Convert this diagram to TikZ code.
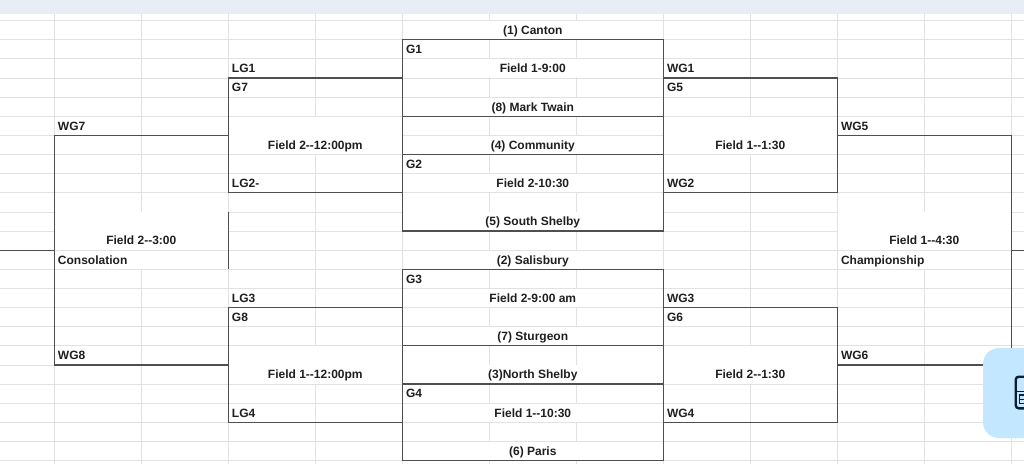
\documentclass[tikz,border=0pt]{standalone}
\usepackage{fontspec}
\setmainfont{Liberation Sans}
\usetikzlibrary{
	positioning,
	calc,
	fit
}
\definecolor{rejilla}{HTML}{E2E2E2}
\definecolor{bordecol}{HTML}{4F4F4F}
\definecolor{cabecera}{HTML}{E9EEF6}
\definecolor{botoncol}{HTML}{C2E7FF}
\definecolor{tinta}{HTML}{1F1F1F}
\definecolor{icono}{HTML}{0B1F33}
\newcommand{\dosguion}{\mbox{-}\mbox{-}}

\begin{document}
\begin{tikzpicture}[
  x=87pt, y=-19.13pt,
  linea/.style={draw=rejilla, line width=0.8pt},
  caja/.style={rectangle, draw=bordecol, line width=1.2pt, inner sep=0pt},
  llave/.style={draw=bordecol, line width=1.2pt},
  texto/.style={font=\fontsize{12pt}{14pt}\selectfont\bfseries, text=tinta,
    inner sep=0pt, text height=8.7pt, text depth=0pt},
  etiq/.style={texto, anchor=west, xshift=3.5pt}
]
\useasboundingbox (-0.6241,-1.0769) rectangle (11.146,23.1783);
\fill[white] (-0.6241,-1.0769) rectangle (11.146,23.1783);
\fill[cabecera] (-0.6241,-1.0769) rectangle (11.146,-0.345);
\foreach \c in {0,...,11}
  \draw[linea] (\c,-0.345) -- (\c,23.1783);
\foreach \f in {0,...,23}
  \draw[linea] (-0.6241,\f) -- (11.146,\f);
\foreach \f in {0,2,...,22}
  \fill[white] ($(4,\f)+(0.5pt,-0.5pt)$) rectangle ($(7,\f+1)+(-0.5pt,0.5pt)$);
\foreach \xa/\ya/\xb/\yb in {2/5/4/7, 2/17/4/19, 7/5/9/7, 7/17/9/19,
    0/10/2/12, 9/10/11/12, 0/12/2/13, 9/12/11/13}
  \fill[white] ($(\xa,\ya)+(0.5pt,-0.5pt)$) rectangle ($(\xb,\yb)+(-0.5pt,0.5pt)$);

\node[caja, fit={(4,1) (7,5)}] (caja1) {};
\node[caja, fit={(4,7) (7,11)}] (caja2) {};
\node[caja, fit={(4,13) (7,17)}] (caja3) {};
\node[caja, fit={(4,19) (7,23)}] (caja4) {};
\node[caja, fit={(2,3) (4,9)}] (caja7) {};
\node[caja, fit={(2,15) (4,21)}] (caja8) {};
\node[caja, fit={(7,3) (9,9)}] (caja5) {};
\node[caja, fit={(7,15) (9,21)}] (caja6) {};

\coordinate (consol) at (0,12);
\coordinate (izq) at (-0.6241,12);
\coordinate (consarr) at (2,10);
\coordinate (consab) at (2,13);
\coordinate (campeon) at (11,12);
\coordinate (der) at (11.146,12);
\draw[llave] (caja7.west) -| (consol) |- (caja8.west);
\draw[llave] (consol) -- (izq);
\draw[llave] (consarr) -- (consab);
\draw[llave] (caja5.east) -| (campeon) |- (caja6.east);
\draw[llave] (campeon) -- (der);

\node[texto] (canton) at (5.5,0.5) {(1) Canton};
\node[texto] (campo1) at (5.5,2.5) {Field 1-9:00};
\node[texto] (twain) at (5.5,4.5) {(8) Mark Twain};
\node[texto] (community) at (5.5,6.5) {(4) Community};
\node[texto] (campo2) at (5.5,8.5) {Field 2-10:30};
\node[texto] (sshelby) at (5.5,10.5) {(5) South Shelby};
\node[texto] (salisbury) at (5.5,12.5) {(2) Salisbury};
\node[texto] (campo3) at (5.5,14.5) {Field 2-9:00 am};
\node[texto] (sturgeon) at (5.5,16.5) {(7) Sturgeon};
\node[texto] (nshelby) at (5.5,18.5) {(3)North Shelby};
\node[texto] (campo4) at (5.5,20.5) {Field 1\dosguion 10:30};
\node[texto] (paris) at (5.5,22.5) {(6) Paris};
\node[etiq] (g1) at (4,1.5) {G1};
\node[etiq] (g2) at (4,7.5) {G2};
\node[etiq] (g3) at (4,13.5) {G3};
\node[etiq] (g4) at (4,19.5) {G4};

\node[etiq] (lg1) at (2,2.5) {LG1};
\node[etiq] (g7) at (2,3.5) {G7};
\node[texto] (campo7) at (3,6.5) {Field 2\dosguion 12:00pm};
\node[etiq] (lg2) at (2,8.5) {LG2-};
\node[etiq] (lg3) at (2,14.5) {LG3};
\node[etiq] (g8) at (2,15.5) {G8};
\node[texto] (campo8) at (3,18.5) {Field 1\dosguion 12:00pm};
\node[etiq] (lg4) at (2,20.5) {LG4};

\node[etiq] (wg1) at (7,2.5) {WG1};
\node[etiq] (g5) at (7,3.5) {G5};
\node[texto] (campo5) at (8,6.5) {Field 1\dosguion 1:30};
\node[etiq] (wg2) at (7,8.5) {WG2};
\node[etiq] (wg3) at (7,14.5) {WG3};
\node[etiq] (g6) at (7,15.5) {G6};
\node[texto] (campo6) at (8,18.5) {Field 2\dosguion 1:30};
\node[etiq] (wg4) at (7,20.5) {WG4};

\node[etiq] (wg7) at (0,5.5) {WG7};
\node[texto] (campocons) at (1,11.5) {Field 2\dosguion 3:00};
\node[etiq] (consolacion) at (0,12.5) {Consolation};
\node[etiq] (wg8) at (0,17.5) {WG8};
\node[etiq] (wg5) at (9,5.5) {WG5};
\node[texto] (campofinal) at (10,11.5) {Field 1\dosguion 4:30};
\node[etiq] (championship) at (9,12.5) {Championship};
\node[etiq] (wg6) at (9,17.5) {WG6};

\begin{scope}
\clip (-0.6241,-1.0769) rectangle (11.146,23.1783);
\fill[botoncol, rounded corners=16pt] (10.675,17.115) rectangle (11.6,21.82);
\draw[icono, line width=2.4pt, rounded corners=3pt] (11.051,18.615) rectangle (11.4,20.267);
\draw[icono, line width=1.4pt] (11.051,19.4) -- (11.146,19.4);
\draw[icono, line width=1.4pt] (11.146,19.58) -| (11.095,20.02) -- (11.146,20.02);
\draw[icono, line width=1.4pt] (11.095,19.8) -- (11.146,19.8);
\end{scope}
\end{tikzpicture}
\end{document}
